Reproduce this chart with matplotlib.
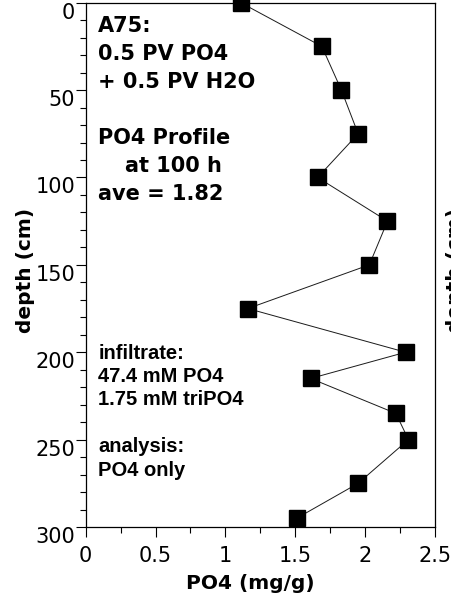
import matplotlib
matplotlib.use("Agg")
import matplotlib.pyplot as plt
from matplotlib.ticker import MultipleLocator

# PO4 profile, column A75
depth_cm = [0, 25, 50, 75, 100, 125, 150, 175, 200, 215, 235, 250, 275, 295]
po4_mg_g = [1.11, 1.69, 1.83, 1.95, 1.66, 2.16, 2.03, 1.16, 2.29, 1.61, 2.22, 2.31, 1.95, 1.51]

x_ticks = [0, 0.5, 1, 1.5, 2, 2.5]
x_tick_labels = ["0", "0.5", "1", "1.5", "2", "2.5"]
y_ticks = [0, 50, 100, 150, 200, 250, 300]
y_tick_labels = ["0", "50", "100", "150", "200", "250", "300"]

header_lines = ["A75:", "0.5 PV PO4", "+ 0.5 PV H2O", "", "PO4 Profile", "at 100 h", "ave = 1.82"]
header_indent = [0, 0, 0, 0, 0, 1, 0]
note_lines = ["infiltrate:", "47.4 mM PO4", "1.75 mM triPO4", "", "analysis:", "PO4 only"]

plt.rcParams["font.family"] = "DejaVu Sans"

W, H = 451, 603
fig = plt.figure(figsize=(W / 100, H / 100), dpi=100)
ax_l, ax_r, ax_t, ax_b = 85.7, 435.0, 2.7, 527.0
ax = fig.add_axes([ax_l / W, 1 - ax_b / H, (ax_r - ax_l) / W, (ax_b - ax_t) / H])

ax.plot(po4_mg_g, depth_cm, color="#1a1a1a", lw=0.7, marker="s", ms=12.2,
        mfc="black", mec="black", clip_on=False, zorder=3)

ax.set_xlim(0, 2.5)
ax.set_ylim(300, 0)
ax.set_xticks(x_ticks)
ax.set_xticklabels(x_tick_labels)
ax.set_yticks(y_ticks)
ax.set_yticklabels(y_tick_labels)
ax.xaxis.set_minor_locator(MultipleLocator(0.25))
ax.yaxis.set_minor_locator(MultipleLocator(10))

ax.tick_params(axis="both", which="major", direction="out", length=7.2, width=0.8,
               labelsize=15, colors="black")
ax.tick_params(axis="both", which="minor", direction="out", length=4.3, width=0.8)
ax.tick_params(axis="x", which="major", pad=6.5)
ax.tick_params(axis="y", which="major", pad=0.5)
for lab in ax.get_yticklabels():
    lab.set_verticalalignment("top")

for sp in ax.spines.values():
    sp.set_linewidth(0.9)
    sp.set_color("black")

ax.set_xlabel("PO4 (mg/g)", fontsize=14.5, fontweight="bold")
ax.xaxis.label.set_verticalalignment("baseline")
ax.xaxis.set_label_coords((250.3 - ax_l) / (ax_r - ax_l), (ax_b - 589.3) / (ax_b - ax_t))

ax.set_ylabel("depth (cm)", fontsize=14.5, fontweight="bold")
ax.yaxis.label.set_verticalalignment("center")
ax.yaxis.set_label_coords((25.8 - ax_l) / (ax_r - ax_l), 1 - (270.5 - ax_t) / (ax_b - ax_t))

# neighbouring panel's axis title, cut off by the right edge
fig.text(455.5 / W, 1 - 270.5 / H, "depth (cm)", rotation=90, ha="center", va="center",
         fontsize=14.5, fontweight="bold")


def ax_y(py):
    return 1 - (py - ax_t) / (ax_b - ax_t)


def ax_x(px):
    return (px - ax_l) / (ax_r - ax_l)


# run description block
for i, (line, ind) in enumerate(zip(header_lines, header_indent)):
    if not line:
        continue
    x0 = 98.3 + 27.0 * ind
    ax.text(ax_x(x0), ax_y(31.9 + 27.95 * i), line, transform=ax.transAxes,
            fontsize=15, fontweight="bold", ha="left", va="baseline")

# infiltrate / analysis notes
for i, line in enumerate(note_lines):
    if not line:
        continue
    ax.text(ax_x(98.3), ax_y(358.5 + 23.4 * i), line, transform=ax.transAxes,
            fontsize=14.5, fontweight="bold", family="Liberation Sans",
            ha="left", va="baseline")

fig.savefig("out.png", dpi=100)
